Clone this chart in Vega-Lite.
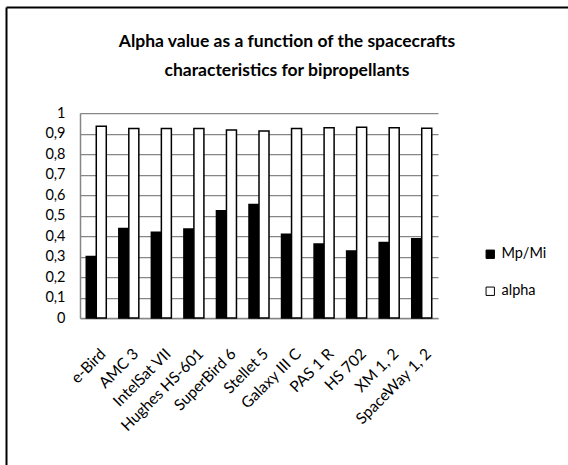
{
  "$schema": "https://vega.github.io/schema/vega-lite/v6.json",
  "width": 562,
  "height": 458,
  "autosize": {"type": "none"},
  "padding": {"left": 6, "top": 7, "right": 0, "bottom": 0},
  "background": "white",
  "title": {
    "text": ["Alpha value as a function of the spacecrafts", "characteristics for bipropellants"],
    "font": "Lato",
    "fontSize": 17.5,
    "fontWeight": "bold",
    "color": "black",
    "lineHeight": 29,
    "anchor": "middle",
    "frame": "group",
    "offset": -72
  },
  "config": {
    "view": {"stroke": null},
    "font": "Lato"
  },
  "data": {
    "values": [
      {"craft": "e-Bird", "series": "Mp/Mi", "value": 0.30},
      {"craft": "e-Bird", "series": "alpha", "value": 0.935},
      {"craft": "AMC 3", "series": "Mp/Mi", "value": 0.437},
      {"craft": "AMC 3", "series": "alpha", "value": 0.924},
      {"craft": "IntelSat VII", "series": "Mp/Mi", "value": 0.418},
      {"craft": "IntelSat VII", "series": "alpha", "value": 0.924},
      {"craft": "Hughes HS-601", "series": "Mp/Mi", "value": 0.434},
      {"craft": "Hughes HS-601", "series": "alpha", "value": 0.924},
      {"craft": "SuperBird 6", "series": "Mp/Mi", "value": 0.523},
      {"craft": "SuperBird 6", "series": "alpha", "value": 0.917},
      {"craft": "Stellet 5", "series": "Mp/Mi", "value": 0.554},
      {"craft": "Stellet 5", "series": "alpha", "value": 0.912},
      {"craft": "Galaxy III C", "series": "Mp/Mi", "value": 0.408},
      {"craft": "Galaxy III C", "series": "alpha", "value": 0.924},
      {"craft": "PAS 1 R", "series": "Mp/Mi", "value": 0.361},
      {"craft": "PAS 1 R", "series": "alpha", "value": 0.928},
      {"craft": "HS 702", "series": "Mp/Mi", "value": 0.327},
      {"craft": "HS 702", "series": "alpha", "value": 0.931},
      {"craft": "XM 1, 2", "series": "Mp/Mi", "value": 0.368},
      {"craft": "XM 1, 2", "series": "alpha", "value": 0.928},
      {"craft": "SpaceWay 1, 2", "series": "Mp/Mi", "value": 0.386},
      {"craft": "SpaceWay 1, 2", "series": "alpha", "value": 0.926}
    ]
  },
  "layer": [
    {
      "mark": {"type": "bar", "stroke": "black", "strokeWidth": 1.5},
      "encoding": {
        "x": {
          "field": "craft",
          "type": "nominal",
          "sort": null,
          "scale": {"range": [74, 432], "paddingInner": 0.385, "paddingOuter": 0.1925},
          "axis": {
            "title": null,
            "offset": -147,
            "domainColor": "#868686",
            "domainWidth": 1.5,
            "ticks": false,
            "grid": false,
            "labelAngle": -45,
            "labelAlign": "right",
            "labelBaseline": "top",
            "labelPadding": 28,
            "labelOffset": 2,
            "labelFont": "Lato",
            "labelFontSize": 15.5,
            "labelColor": "black",
            "labelOverlap": false
          }
        },
        "xOffset": {
          "field": "series",
          "type": "nominal",
          "sort": ["Mp/Mi", "alpha"],
          "scale": {"paddingInner": 0, "paddingOuter": 0}
        },
        "y": {
          "field": "value",
          "type": "quantitative",
          "scale": {"domain": [0, 1], "nice": false, "range": [311, 106]},
          "axis": {
            "title": null,
            "offset": -74,
            "values": [0, 0.1, 0.2, 0.3, 0.4, 0.5, 0.6, 0.7, 0.8, 0.9, 1],
            "labelExpr": "replace(format(datum.value, '.1~f'), '.', ',')",
            "domainColor": "#868686",
            "domainWidth": 1.5,
            "ticks": false,
            "grid": true,
            "gridColor": "#868686",
            "gridWidth": 1.25,
            "labelPadding": 15,
            "labelFont": "Lato",
            "labelFontSize": 14.5,
            "labelColor": "black"
          }
        },
        "fill": {
          "field": "series",
          "type": "nominal",
          "sort": ["Mp/Mi", "alpha"],
          "scale": {"domain": ["Mp/Mi", "alpha"], "range": ["black", "white"]},
          "legend": {
            "title": null,
            "orient": "none",
            "legendX": 477,
            "legendY": 240,
            "symbolType": "square",
            "symbolSize": 70,
            "symbolStrokeColor": "black",
            "symbolStrokeWidth": 1,
            "rowPadding": 22,
            "labelFont": "Lato",
            "labelFontSize": 14.5,
            "labelColor": "black",
            "labelOffset": 4
          }
        }
      }
    },
    {
      "mark": {"type": "point", "opacity": 0},
      "encoding": {
        "x": {
          "field": "value",
          "type": "quantitative",
          "scale": {"zero": false},
          "axis": {"orient": "top", "title": null, "labels": false, "ticks": false, "grid": false, "domainColor": "black", "domainWidth": 2}
        },
        "y": {
          "field": "value",
          "type": "quantitative",
          "scale": {"zero": false},
          "axis": {"orient": "right", "offset": -562, "title": null, "labels": false, "ticks": false, "grid": false, "domainColor": "black", "domainWidth": 2}
        }
      }
    }
  ],
  "resolve": {
    "scale": {"x": "independent", "y": "independent"},
    "axis": {"x": "independent", "y": "independent"}
  }
}
